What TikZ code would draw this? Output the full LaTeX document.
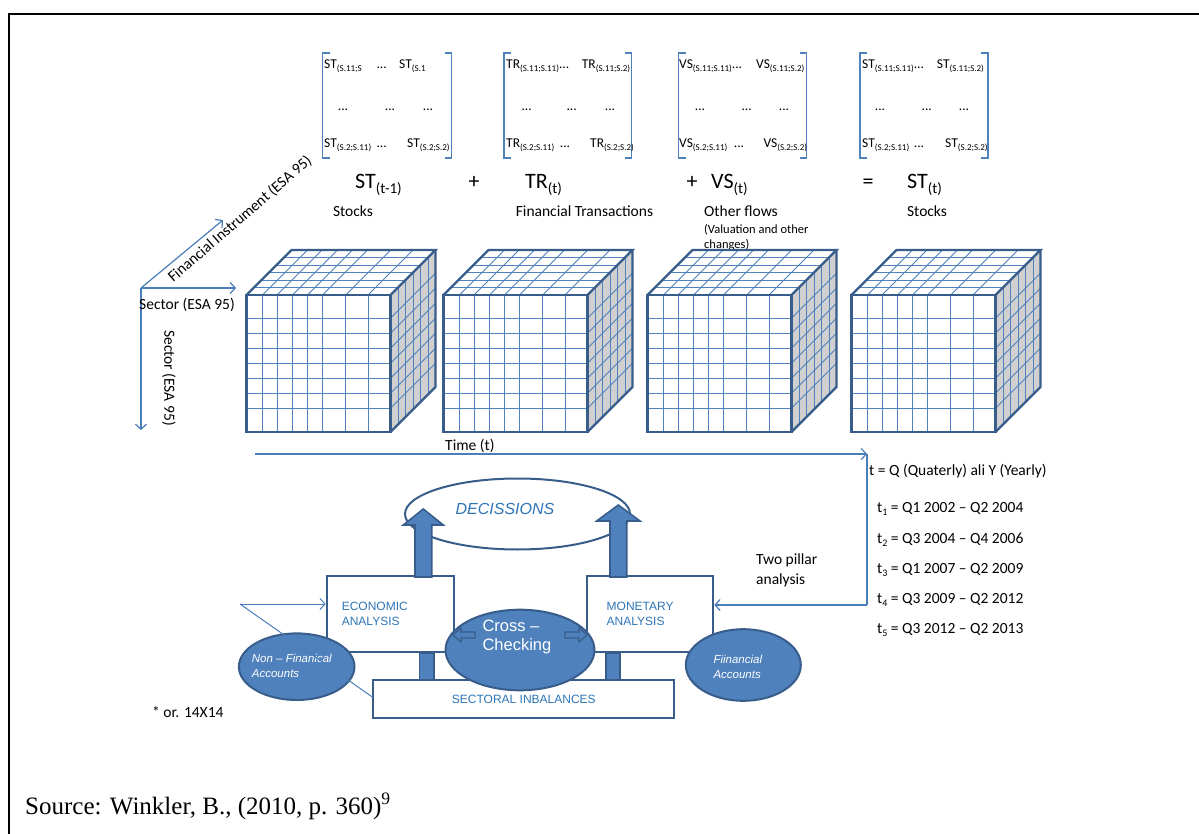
\documentclass[tikz,border=0pt]{standalone}
\usepackage{fontspec}
\setmainfont{Carlito}
\newfontfamily\arialf{Liberation Sans}
\newfontfamily\seriff{Liberation Serif}
\usetikzlibrary{arrows.meta,shapes.geometric}
\definecolor{edgeblue}{RGB}{56,93,138}
\definecolor{gridblue}{RGB}{79,129,189}
\definecolor{sidegray}{RGB}{208,208,208}
\definecolor{fillblue}{RGB}{79,129,189}
\definecolor{textblue}{RGB}{46,117,182}
\definecolor{axisblue}{RGB}{74,126,187}
\newcommand\fsz[2]{\fontsize{#1}{#2}\selectfont}
\newcommand\ms[1]{\raisebox{-3pt}{\fsz{9}{10}#1}}
\newcommand\es[1]{\raisebox{-5pt}{\fsz{15}{16}#1}}
\newcommand\ts[1]{\raisebox{-3pt}{\fsz{10}{11}#1}}
\tikzset{
  gridl/.style={draw=gridblue,line width=0.9pt},
  cedge/.style={draw=edgeblue,line width=2.2pt,line join=miter},
  mtxt/.style={anchor=base west,inner sep=0pt,font=\fsz{13.5}{15}},
  mdot/.style={anchor=base,inner sep=0pt,font=\fsz{13.5}{15}},
  eqtxt/.style={anchor=base west,inner sep=0pt,font=\fsz{22}{24}},
  eqop/.style={anchor=base,inner sep=0pt,font=\fsz{22}{24}},
  lbl/.style={inner sep=0pt,font=\fsz{15.5}{18}},
  brk/.style={draw=gridblue,line width=1.2pt},
  axarrow/.style={draw=axisblue,line width=1.2pt,-{Straight Barb[length=5pt,width=11pt]}},
  axline/.style={draw=axisblue,line width=1.2pt},
  abox/.style={draw=edgeblue,line width=2pt,fill=white,inner sep=0pt,align=left,
     font=\arialf\fsz{12}{15.5},text=textblue},
  bell/.style={ellipse,draw=edgeblue,line width=2pt,fill=fillblue,inner sep=0pt},
  btxt/.style={anchor=west,inner sep=0pt,align=left,text=white},
  barrow/.style={draw=edgeblue,line width=1.6pt,fill=fillblue,line join=miter},
}
\newcommand\drawcube[1]{%
\begin{scope}[shift={(#1,0)}]
\fill[sidegray] (144,295) -- (189,250) -- (189,387) -- (144,432) -- cycle;
\fill[white] (0,295) rectangle (144,432);
\fill[white] (0,295) -- (45,250) -- (189,250) -- (144,295) -- cycle;
\foreach \u in {16,30.6,46,61,76,99.3,121.6}{
  \draw[gridl] (\u,295) -- (\u,432);
  \draw[gridl] (\u,295) -- ++(45,-45);}
\foreach \v in {318.3,333.3,348.3,363.3,378.3,393.3,408.3}{
  \draw[gridl] (0,\v) -- (144,\v);
  \draw[gridl] (144,\v) -- ++(45,-45);}
\foreach \f in {7.5,15,22.5,30,37.5}{
  \draw[gridl] (\f,295-\f) -- (144+\f,295-\f);
  \draw[gridl] (144+\f,295-\f) -- (144+\f,432-\f);}
\draw[cedge] (0,295) rectangle (144,432);
\draw[cedge] (0,295) -- (45,250) -- (189,250) -- (144,295);
\draw[cedge] (189,250) -- (189,387) -- (144,432);
\end{scope}}
\newcommand\bracket[2]{%
\draw[brk] (#1+7,53) -- (#1,53) -- (#1,158) -- (#1+7,158);
\draw[brk] (#2-7,53) -- (#2,53) -- (#2,158) -- (#2-7,158);}
\begin{document}
\begin{tikzpicture}[x=1pt,y=-1pt]
\useasboundingbox (0,0) rectangle (1199,834);
\fill[white] (0,0) rectangle (1199,834);
% frame
\draw[line width=2pt] (9,834) -- (9,14.5) -- (1199,14.5);

% matrices
\bracket{322.5}{451.5}
\bracket{504}{631.5}
\bracket{678.5}{806.5}
\bracket{860}{988}
% matrix 1
\node[mtxt] (m1a) at (324,69) {ST\ms{(S.11;S}};
\node[mdot] (m1b) at (381.7,69) {...};
\node[mtxt] (m1c) at (399,69) {ST\ms{(S.1}};
\node[mdot] (m1d) at (343,111) {...};
\node[mdot] (m1e) at (390,111) {...};
\node[mdot] (m1f) at (428,111) {...};
\node[mtxt] (m1g) at (324,148) {ST\ms{(S.2;S.11)}};
\node[mdot] (m1h) at (381.7,148) {...};
\node[mtxt] (m1i) at (407,148) {ST\ms{(S.2;S.2)}};
% matrix 2
\node[mtxt] (m2a) at (506,69) {TR\ms{(S.11;S.11)}...};
\node[mtxt] (m2c) at (581.7,69) {TR\ms{(S.11;S.2)}};
\node[mdot] (m2d) at (526.7,111) {...};
\node[mdot] (m2e) at (571.7,111) {...};
\node[mdot] (m2f) at (610,111) {...};
\node[mtxt] (m2g) at (506,148) {TR\ms{(S.2;S.11)}};
\node[mdot] (m2h) at (565,148) {...};
\node[mtxt] (m2i) at (590,148) {TR\ms{(S.2;S.2)}};
% matrix 3
\node[mtxt] (m3a) at (679,69) {VS\ms{(S.11;S.11)}...};
\node[mtxt] (m3c) at (756,69) {VS\ms{(S.11;S.2)}};
\node[mdot] (m3d) at (700,111) {...};
\node[mdot] (m3e) at (746.7,111) {...};
\node[mdot] (m3f) at (784,111) {...};
\node[mtxt] (m3g) at (679,148) {VS\ms{(S.2;S.11)}};
\node[mdot] (m3h) at (739,148) {...};
\node[mtxt] (m3i) at (763.3,148) {VS\ms{(S.2;S.2)}};
% matrix 4
\node[mtxt] (m4a) at (862,69) {ST\ms{(S.11;S.11)}...};
\node[mtxt] (m4c) at (936.7,69) {ST\ms{(S.11;S.2)}};
\node[mdot] (m4d) at (880,111) {...};
\node[mdot] (m4e) at (926.7,111) {...};
\node[mdot] (m4f) at (964,111) {...};
\node[mtxt] (m4g) at (862,148) {ST\ms{(S.2;S.11)}};
\node[mdot] (m4h) at (919,148) {...};
\node[mtxt] (m4i) at (945,148) {ST\ms{(S.2;S.2)}};

% equation
\node[eqtxt] (e1) at (355,189) {ST\es{(t-1)}};
\node[eqop] (p1) at (474,189) {+};
\node[eqtxt] (e2) at (525,189) {TR\es{(t)}};
\node[eqop] (p2) at (692,189) {+};
\node[eqtxt] (e3) at (711,189) {VS\es{(t)}};
\node[eqop] (eqs) at (868,189) {=};
\node[eqtxt] (e4) at (907,189) {ST\es{(t)}};

% labels
\node[lbl,anchor=base] (l1) at (353,217) {Stocks};
\node[lbl,anchor=base] (l2) at (584.5,217) {Financial Transactions};
\node[lbl,anchor=base west] (l3) at (704,217) {Other flows};
\node[inner sep=0pt,anchor=base west,font=\fsz{12.5}{14}] (l3b) at (704,234) {(Valuation and other};
\node[inner sep=0pt,anchor=base west,font=\fsz{12.5}{14}] (l3c) at (704,249) {changes)};
\node[lbl,anchor=base] (l4) at (927,217) {Stocks};

% cubes
\drawcube{246.5}
\drawcube{443.5}
\drawcube{647.5}
\drawcube{851.5}

% axes
\coordinate (O) at (141,288);
\coordinate (FI) at (223,220);
\coordinate (SE) at (236,288);
\coordinate (SV) at (141,430);
\draw[axarrow] (O) -- (FI);
\draw[axarrow] (O) -- (SE);
\draw[axarrow] (O) -- (SV);
\node[lbl,anchor=base west] (sec1) at (139,309) {Sector (ESA 95)};
\node[lbl,rotate=41] (fin) at (240,219) {Financial Instrument (ESA 95)};
\node[lbl,rotate=-90] (sec2) at (169,378) {Sector (ESA 95)};

% time
\coordinate (T0) at (255,454);
\coordinate (T1) at (867,454);
\coordinate (T2) at (867,605);
\draw[axarrow] (T0) -- (T1);
\node[lbl,anchor=base west] (time) at (445,450) {Time (t)};
\node[lbl,anchor=base west] (tq) at (869,475) {t = Q (Quaterly) ali Y (Yearly)};
\node[lbl,anchor=base west] (t1) at (877,512) {t\ts{1} = Q1 2002 – Q2 2004};
\node[lbl,anchor=base west] (t2) at (877,543) {t\ts{2} = Q3 2004 – Q4 2006};
\node[lbl,anchor=base west] (t3) at (877,573) {t\ts{3} = Q1 2007 – Q2 2009};
\node[lbl,anchor=base west] (t4) at (877,603) {t\ts{4} = Q3 2009 – Q2 2012};
\node[lbl,anchor=base west] (t5) at (877,633) {t\ts{5} = Q3 2012 – Q2 2013};
\node[lbl,anchor=west,align=left,font=\fsz{15.5}{20}] (two) at (756,570) {Two pillar\\analysis};

% bottom diagram
\node[ellipse,draw=edgeblue,line width=2pt,fill=white,minimum width=225pt,minimum height=71pt,inner sep=0pt] (dec) at (517.5,514) {};
\node[inner sep=0pt,font=\arialf\itshape\fsz{16}{18},text=textblue] (dect) at (505,509) {DECISSIONS};
\node[abox,minimum width=127.3pt,minimum height=76.6pt,text width=97pt] (econ) at (390.3,614) {ECONOMIC\\ANALYSIS};
\node[abox,minimum width=126.6pt,minimum height=76.6pt,text width=86.6pt] (mon) at (650,614) {MONETARY\\ANALYSIS};
\draw[barrow] (415,577) -- (415,525) -- (403.3,525) -- (423.3,509) -- (443.3,525) -- (431.7,525) -- (431.7,577) -- cycle;
\draw[barrow] (610,577) -- (610,521) -- (596.7,521) -- (618.3,505) -- (640,521) -- (626.7,521) -- (626.7,577) -- cycle;
\draw[barrow] (419.3,653.3) rectangle (434,680);
\draw[barrow] (606,653.3) rectangle (620,680);
\node[abox,minimum width=301pt,minimum height=38.3pt,align=center] (sect) at (523.8,699.2) {SECTORAL INBALANCES};
\node[bell,minimum width=149pt,minimum height=80.6pt] (cross) at (520,650) {};
\node[btxt,font=\arialf\fsz{16.5}{19}] (crosst) at (482.3,637) {Cross –\\Checking};
\draw[barrow,line width=1.2pt] (453,635) -- (461,628) -- (461,632) -- (475,632) -- (475,638) -- (461,638) -- (461,642) -- cycle;
\draw[barrow,line width=1.2pt] (587,635) -- (579,628) -- (579,632) -- (565,632) -- (565,638) -- (579,638) -- (579,642) -- cycle;
\node[bell,minimum width=115.6pt,minimum height=66.6pt] (nfa) at (296.7,666.7) {};
\node[btxt,font=\arialf\itshape\fsz{11.5}{15}] (nfat) at (251.7,665.5) {Non – Finanical\\Accounts};
\node[bell,minimum width=115pt,minimum height=71.6pt] (fa) at (743.3,665) {};
\node[btxt,font=\arialf\itshape\fsz{11.5}{15}] (fat) at (713.3,666.5) {Fiinancial\\Accounts};
\coordinate (src) at (240,604);
\draw[axarrow,line width=1pt] (src) -- (econ.west |- src);
\draw[axline,line width=1pt] (src) -- (sect.west |- 0,697);
\draw[axline] (T1) -- (T2);
\draw[axarrow] (T2) -- (mon.east |- T2);

% footnotes
\node[lbl,anchor=base west] (note) at (152,717) {* or. 14X14};
\node[inner sep=0pt,anchor=base west,font=\seriff\fsz{25}{28}] (source) at (25,814) {Source: Winkler, B., (2010, p. 360)\textsuperscript{9}};
\end{tikzpicture}
\end{document}
